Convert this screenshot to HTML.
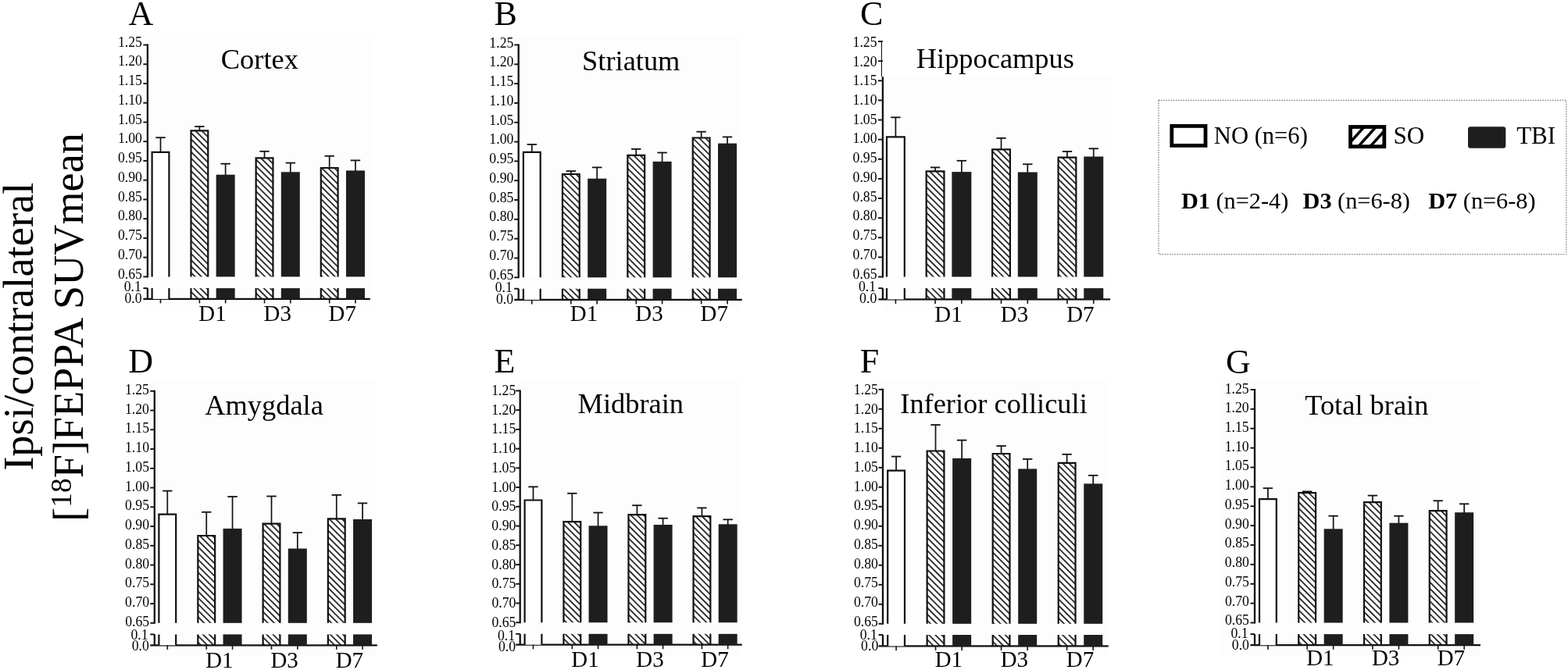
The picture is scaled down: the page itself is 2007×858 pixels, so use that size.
<!DOCTYPE html>
<html><head><meta charset="utf-8"><title>FEPPA SUVmean figure</title>
<style>
html,body{margin:0;padding:0;background:#fff;}
body{width:2007px;height:858px;overflow:hidden;position:relative;}
svg{position:absolute;left:0;top:0;display:block;}
text{font-family:"Liberation Serif", "Times New Roman", serif;fill:#000;}
</style></head>
<body>
<svg width="2007" height="858" viewBox="0 0 2007 858">
<defs>
<pattern id="hatch" patternUnits="userSpaceOnUse" width="5.76" height="5.76" patternTransform="rotate(-45)">
<rect x="0" y="0" width="1.65" height="5.76" fill="#111"/>
</pattern>
<filter id="bl" x="-10%" y="-10%" width="120%" height="120%"><feGaussianBlur stdDeviation="1.0"/></filter>
<clipPath id="soclip"><rect x="1728" y="162" width="44.3" height="26"/></clipPath>
</defs>
<rect width="2007" height="858" fill="#fff"/>
<g transform="translate(42,418.2) rotate(-90)">
<text x="0" y="0" font-size="54.5" text-anchor="middle">Ipsi/contralateral</text>
</g>
<g transform="translate(106,419) rotate(-90)">
<text x="0" y="0" font-size="54.2" text-anchor="middle">[<tspan font-size="37.4" dy="-15.5">18</tspan><tspan dy="15.5">F]FEPPA SUVmean</tspan></text>
</g>
<rect x="183" y="42.7" width="290.4" height="354.3" fill="#fdfdfd"/>
<text x="164.6" y="32" font-size="44">A</text>
<text x="282.81" y="88.1" font-size="36.4">Cortex</text>
<line x1="188.9" y1="56.5" x2="188.9" y2="355.4" stroke="#111" stroke-width="2.3"/>
<line x1="183.4" y1="57.5" x2="188.9" y2="57.5" stroke="#111" stroke-width="1.9"/>
<text transform="translate(181.99 59.7) scale(0.92 1)" font-size="19.3" text-anchor="end">1.25</text>
<line x1="183.4" y1="82.24" x2="188.9" y2="82.24" stroke="#111" stroke-width="1.9"/>
<text transform="translate(181.98 84.44) scale(0.92 1)" font-size="19.3" text-anchor="end">1.20</text>
<line x1="183.4" y1="106.98" x2="188.9" y2="106.98" stroke="#111" stroke-width="1.9"/>
<text transform="translate(181.99 109.18) scale(0.92 1)" font-size="19.3" text-anchor="end">1.15</text>
<line x1="183.4" y1="131.72" x2="188.9" y2="131.72" stroke="#111" stroke-width="1.9"/>
<text transform="translate(181.98 133.93) scale(0.92 1)" font-size="19.3" text-anchor="end">1.10</text>
<line x1="183.4" y1="156.47" x2="188.9" y2="156.47" stroke="#111" stroke-width="1.9"/>
<text transform="translate(181.99 158.67) scale(0.92 1)" font-size="19.3" text-anchor="end">1.05</text>
<line x1="183.4" y1="181.21" x2="188.9" y2="181.21" stroke="#111" stroke-width="1.9"/>
<text transform="translate(181.98 183.41) scale(0.92 1)" font-size="19.3" text-anchor="end">1.00</text>
<line x1="183.4" y1="205.95" x2="188.9" y2="205.95" stroke="#111" stroke-width="1.9"/>
<text transform="translate(181.99 208.15) scale(0.92 1)" font-size="19.3" text-anchor="end">0.95</text>
<line x1="183.4" y1="230.69" x2="188.9" y2="230.69" stroke="#111" stroke-width="1.9"/>
<text transform="translate(181.98 232.89) scale(0.92 1)" font-size="19.3" text-anchor="end">0.90</text>
<line x1="183.4" y1="255.43" x2="188.9" y2="255.43" stroke="#111" stroke-width="1.9"/>
<text transform="translate(181.99 257.63) scale(0.92 1)" font-size="19.3" text-anchor="end">0.85</text>
<line x1="183.4" y1="280.17" x2="188.9" y2="280.17" stroke="#111" stroke-width="1.9"/>
<text transform="translate(181.98 282.38) scale(0.92 1)" font-size="19.3" text-anchor="end">0.80</text>
<line x1="183.4" y1="304.92" x2="188.9" y2="304.92" stroke="#111" stroke-width="1.9"/>
<text transform="translate(181.99 307.12) scale(0.92 1)" font-size="19.3" text-anchor="end">0.75</text>
<line x1="183.4" y1="329.66" x2="188.9" y2="329.66" stroke="#111" stroke-width="1.9"/>
<text transform="translate(181.98 331.86) scale(0.92 1)" font-size="19.3" text-anchor="end">0.70</text>
<line x1="183.4" y1="354.4" x2="188.9" y2="354.4" stroke="#111" stroke-width="1.9"/>
<text transform="translate(181.99 356.6) scale(0.92 1)" font-size="19.3" text-anchor="end">0.65</text>
<line x1="188.9" y1="369.1" x2="188.9" y2="382.9" stroke="#111" stroke-width="2.3"/>
<line x1="183.4" y1="369.1" x2="188.9" y2="369.1" stroke="#111" stroke-width="1.9"/>
<line x1="183.4" y1="382.9" x2="473.8" y2="382.9" stroke="#111" stroke-width="2.2"/>
<text transform="translate(180.87 373.4) scale(0.92 1)" font-size="19.3" text-anchor="end">0.1</text>
<text transform="translate(181.68 388.2) scale(0.92 1)" font-size="19.3" text-anchor="end">0.0</text>
<line x1="205.5" y1="194.7" x2="205.5" y2="175.9" stroke="#111" stroke-width="1.7"/>
<line x1="199.3" y1="176.2" x2="211.7" y2="176.2" stroke="#111" stroke-width="1.8"/>
<rect x="194.6" y="194.8" width="21.8" height="159.6" fill="#fff"/>
<path d="M194.6 354.4V194.8H216.4V354.4" fill="none" stroke="#111" stroke-width="2.2"/>
<rect x="194.6" y="369.1" width="21.8" height="13.8" fill="#fff"/>
<path d="M194.6 369.1V382.9M216.4 369.1V382.9" fill="none" stroke="#111" stroke-width="2.2"/>
<line x1="205.5" y1="382.9" x2="205.5" y2="388.4" stroke="#111" stroke-width="1.6"/>
<line x1="255.39" y1="167.3" x2="255.39" y2="161.7" stroke="#111" stroke-width="1.7"/>
<line x1="249.19" y1="162" x2="261.59" y2="162" stroke="#111" stroke-width="1.8"/>
<rect x="244.49" y="167.4" width="21.8" height="187" fill="url(#hatch)"/>
<path d="M244.49 354.4V167.4H266.29V354.4" fill="none" stroke="#111" stroke-width="2.2"/>
<rect x="244.49" y="369.1" width="21.8" height="13.8" fill="url(#hatch)"/>
<path d="M244.49 369.1V382.9M266.29 369.1V382.9" fill="none" stroke="#111" stroke-width="2.2"/>
<line x1="255.39" y1="382.9" x2="255.39" y2="388.4" stroke="#111" stroke-width="1.6"/>
<line x1="288.65" y1="224.7" x2="288.65" y2="209.4" stroke="#111" stroke-width="1.7"/>
<line x1="282.45" y1="209.7" x2="294.85" y2="209.7" stroke="#111" stroke-width="1.8"/>
<rect x="276.65" y="223.7" width="24" height="130.7" fill="#1e1e1e"/>
<rect x="276.65" y="369.1" width="24" height="13.8" fill="#1e1e1e"/>
<line x1="288.65" y1="382.9" x2="288.65" y2="388.4" stroke="#111" stroke-width="1.6"/>
<line x1="338.54" y1="202.3" x2="338.54" y2="193.5" stroke="#111" stroke-width="1.7"/>
<line x1="332.34" y1="193.8" x2="344.74" y2="193.8" stroke="#111" stroke-width="1.8"/>
<rect x="327.64" y="202.4" width="21.8" height="152" fill="url(#hatch)"/>
<path d="M327.64 354.4V202.4H349.44V354.4" fill="none" stroke="#111" stroke-width="2.2"/>
<rect x="327.64" y="369.1" width="21.8" height="13.8" fill="url(#hatch)"/>
<path d="M327.64 369.1V382.9M349.44 369.1V382.9" fill="none" stroke="#111" stroke-width="2.2"/>
<line x1="338.54" y1="382.9" x2="338.54" y2="388.4" stroke="#111" stroke-width="1.6"/>
<line x1="371.8" y1="221.3" x2="371.8" y2="208.3" stroke="#111" stroke-width="1.7"/>
<line x1="365.6" y1="208.6" x2="378" y2="208.6" stroke="#111" stroke-width="1.8"/>
<rect x="359.8" y="220.3" width="24" height="134.1" fill="#1e1e1e"/>
<rect x="359.8" y="369.1" width="24" height="13.8" fill="#1e1e1e"/>
<line x1="371.8" y1="382.9" x2="371.8" y2="388.4" stroke="#111" stroke-width="1.6"/>
<line x1="421.69" y1="214.9" x2="421.69" y2="199.5" stroke="#111" stroke-width="1.7"/>
<line x1="415.49" y1="199.8" x2="427.89" y2="199.8" stroke="#111" stroke-width="1.8"/>
<rect x="410.79" y="215" width="21.8" height="139.4" fill="url(#hatch)"/>
<path d="M410.79 354.4V215H432.59V354.4" fill="none" stroke="#111" stroke-width="2.2"/>
<rect x="410.79" y="369.1" width="21.8" height="13.8" fill="url(#hatch)"/>
<path d="M410.79 369.1V382.9M432.59 369.1V382.9" fill="none" stroke="#111" stroke-width="2.2"/>
<line x1="421.69" y1="382.9" x2="421.69" y2="388.4" stroke="#111" stroke-width="1.6"/>
<line x1="454.95" y1="219.4" x2="454.95" y2="205.1" stroke="#111" stroke-width="1.7"/>
<line x1="448.75" y1="205.4" x2="461.15" y2="205.4" stroke="#111" stroke-width="1.8"/>
<rect x="442.95" y="218.4" width="24" height="136" fill="#1e1e1e"/>
<rect x="442.95" y="369.1" width="24" height="13.8" fill="#1e1e1e"/>
<line x1="454.95" y1="382.9" x2="454.95" y2="388.4" stroke="#111" stroke-width="1.6"/>
<text transform="translate(272.02 410.6) scale(0.95 1)" font-size="30.5" text-anchor="middle">D1</text>
<text transform="translate(355.17 410.6) scale(0.95 1)" font-size="30.5" text-anchor="middle">D3</text>
<text transform="translate(438.32 410.6) scale(0.95 1)" font-size="30.5" text-anchor="middle">D7</text>
<rect x="657" y="44.3" width="291.5" height="352.7" fill="#fdfdfd"/>
<text x="632.6" y="31.5" font-size="44">B</text>
<text x="745.07" y="90.3" font-size="36.4">Striatum</text>
<line x1="663.7" y1="56.5" x2="663.7" y2="356.3" stroke="#111" stroke-width="2.3"/>
<line x1="658.2" y1="57.5" x2="663.7" y2="57.5" stroke="#111" stroke-width="1.9"/>
<text transform="translate(657.39 60.6) scale(0.92 1)" font-size="19.3" text-anchor="end">1.25</text>
<line x1="658.2" y1="82.32" x2="663.7" y2="82.32" stroke="#111" stroke-width="1.9"/>
<text transform="translate(657.38 85.36) scale(0.92 1)" font-size="19.3" text-anchor="end">1.20</text>
<line x1="658.2" y1="107.13" x2="663.7" y2="107.13" stroke="#111" stroke-width="1.9"/>
<text transform="translate(657.39 110.12) scale(0.92 1)" font-size="19.3" text-anchor="end">1.15</text>
<line x1="658.2" y1="131.95" x2="663.7" y2="131.95" stroke="#111" stroke-width="1.9"/>
<text transform="translate(657.38 134.88) scale(0.92 1)" font-size="19.3" text-anchor="end">1.10</text>
<line x1="658.2" y1="156.77" x2="663.7" y2="156.77" stroke="#111" stroke-width="1.9"/>
<text transform="translate(657.39 159.63) scale(0.92 1)" font-size="19.3" text-anchor="end">1.05</text>
<line x1="658.2" y1="181.58" x2="663.7" y2="181.58" stroke="#111" stroke-width="1.9"/>
<text transform="translate(657.38 184.39) scale(0.92 1)" font-size="19.3" text-anchor="end">1.00</text>
<line x1="658.2" y1="206.4" x2="663.7" y2="206.4" stroke="#111" stroke-width="1.9"/>
<text transform="translate(657.39 209.15) scale(0.92 1)" font-size="19.3" text-anchor="end">0.95</text>
<line x1="658.2" y1="231.22" x2="663.7" y2="231.22" stroke="#111" stroke-width="1.9"/>
<text transform="translate(657.38 233.91) scale(0.92 1)" font-size="19.3" text-anchor="end">0.90</text>
<line x1="658.2" y1="256.03" x2="663.7" y2="256.03" stroke="#111" stroke-width="1.9"/>
<text transform="translate(657.39 258.67) scale(0.92 1)" font-size="19.3" text-anchor="end">0.85</text>
<line x1="658.2" y1="280.85" x2="663.7" y2="280.85" stroke="#111" stroke-width="1.9"/>
<text transform="translate(657.38 283.42) scale(0.92 1)" font-size="19.3" text-anchor="end">0.80</text>
<line x1="658.2" y1="305.67" x2="663.7" y2="305.67" stroke="#111" stroke-width="1.9"/>
<text transform="translate(657.39 308.18) scale(0.92 1)" font-size="19.3" text-anchor="end">0.75</text>
<line x1="658.2" y1="330.48" x2="663.7" y2="330.48" stroke="#111" stroke-width="1.9"/>
<text transform="translate(657.38 332.94) scale(0.92 1)" font-size="19.3" text-anchor="end">0.70</text>
<line x1="658.2" y1="355.3" x2="663.7" y2="355.3" stroke="#111" stroke-width="1.9"/>
<text transform="translate(657.39 357.7) scale(0.92 1)" font-size="19.3" text-anchor="end">0.65</text>
<line x1="663.7" y1="369.7" x2="663.7" y2="383.9" stroke="#111" stroke-width="2.3"/>
<line x1="658.2" y1="369.7" x2="663.7" y2="369.7" stroke="#111" stroke-width="1.9"/>
<line x1="658.2" y1="383.9" x2="949.8" y2="383.9" stroke="#111" stroke-width="2.2"/>
<text transform="translate(655.87 374.3) scale(0.92 1)" font-size="19.3" text-anchor="end">0.1</text>
<text transform="translate(657.08 388.6) scale(0.92 1)" font-size="19.3" text-anchor="end">0.0</text>
<line x1="680.8" y1="194.7" x2="680.8" y2="184.7" stroke="#111" stroke-width="1.7"/>
<line x1="674.6" y1="185" x2="687" y2="185" stroke="#111" stroke-width="1.8"/>
<rect x="669.9" y="194.8" width="21.8" height="160.5" fill="#fff"/>
<path d="M669.9 355.3V194.8H691.7V355.3" fill="none" stroke="#111" stroke-width="2.2"/>
<rect x="669.9" y="369.7" width="21.8" height="14.2" fill="#fff"/>
<path d="M669.9 369.7V383.9M691.7 369.7V383.9" fill="none" stroke="#111" stroke-width="2.2"/>
<line x1="680.8" y1="383.9" x2="680.8" y2="389.4" stroke="#111" stroke-width="1.6"/>
<line x1="730.84" y1="222.9" x2="730.84" y2="218.8" stroke="#111" stroke-width="1.7"/>
<line x1="724.64" y1="219.1" x2="737.04" y2="219.1" stroke="#111" stroke-width="1.8"/>
<rect x="719.94" y="223" width="21.8" height="132.3" fill="url(#hatch)"/>
<path d="M719.94 355.3V223H741.74V355.3" fill="none" stroke="#111" stroke-width="2.2"/>
<rect x="719.94" y="369.7" width="21.8" height="14.2" fill="url(#hatch)"/>
<path d="M719.94 369.7V383.9M741.74 369.7V383.9" fill="none" stroke="#111" stroke-width="2.2"/>
<line x1="730.84" y1="383.9" x2="730.84" y2="389.4" stroke="#111" stroke-width="1.6"/>
<line x1="764.2" y1="229.7" x2="764.2" y2="214.1" stroke="#111" stroke-width="1.7"/>
<line x1="758" y1="214.4" x2="770.4" y2="214.4" stroke="#111" stroke-width="1.8"/>
<rect x="752.2" y="228.7" width="24" height="126.6" fill="#1e1e1e"/>
<rect x="752.2" y="369.7" width="24" height="14.2" fill="#1e1e1e"/>
<line x1="764.2" y1="383.9" x2="764.2" y2="389.4" stroke="#111" stroke-width="1.6"/>
<line x1="814.24" y1="198.8" x2="814.24" y2="190.6" stroke="#111" stroke-width="1.7"/>
<line x1="808.04" y1="190.9" x2="820.44" y2="190.9" stroke="#111" stroke-width="1.8"/>
<rect x="803.34" y="198.9" width="21.8" height="156.4" fill="url(#hatch)"/>
<path d="M803.34 355.3V198.9H825.14V355.3" fill="none" stroke="#111" stroke-width="2.2"/>
<rect x="803.34" y="369.7" width="21.8" height="14.2" fill="url(#hatch)"/>
<path d="M803.34 369.7V383.9M825.14 369.7V383.9" fill="none" stroke="#111" stroke-width="2.2"/>
<line x1="814.24" y1="383.9" x2="814.24" y2="389.4" stroke="#111" stroke-width="1.6"/>
<line x1="847.6" y1="207.9" x2="847.6" y2="195.2" stroke="#111" stroke-width="1.7"/>
<line x1="841.4" y1="195.5" x2="853.8" y2="195.5" stroke="#111" stroke-width="1.8"/>
<rect x="835.6" y="206.9" width="24" height="148.4" fill="#1e1e1e"/>
<rect x="835.6" y="369.7" width="24" height="14.2" fill="#1e1e1e"/>
<line x1="847.6" y1="383.9" x2="847.6" y2="389.4" stroke="#111" stroke-width="1.6"/>
<line x1="897.64" y1="176.4" x2="897.64" y2="168.4" stroke="#111" stroke-width="1.7"/>
<line x1="891.44" y1="168.7" x2="903.84" y2="168.7" stroke="#111" stroke-width="1.8"/>
<rect x="886.74" y="176.5" width="21.8" height="178.8" fill="url(#hatch)"/>
<path d="M886.74 355.3V176.5H908.54V355.3" fill="none" stroke="#111" stroke-width="2.2"/>
<rect x="886.74" y="369.7" width="21.8" height="14.2" fill="url(#hatch)"/>
<path d="M886.74 369.7V383.9M908.54 369.7V383.9" fill="none" stroke="#111" stroke-width="2.2"/>
<line x1="897.64" y1="383.9" x2="897.64" y2="389.4" stroke="#111" stroke-width="1.6"/>
<line x1="931" y1="184.6" x2="931" y2="175.1" stroke="#111" stroke-width="1.7"/>
<line x1="924.8" y1="175.4" x2="937.2" y2="175.4" stroke="#111" stroke-width="1.8"/>
<rect x="919" y="183.6" width="24" height="171.7" fill="#1e1e1e"/>
<rect x="919" y="369.7" width="24" height="14.2" fill="#1e1e1e"/>
<line x1="931" y1="383.9" x2="931" y2="389.4" stroke="#111" stroke-width="1.6"/>
<text transform="translate(747.52 410.8) scale(0.95 1)" font-size="30.5" text-anchor="middle">D1</text>
<text transform="translate(830.92 410.8) scale(0.95 1)" font-size="30.5" text-anchor="middle">D3</text>
<text transform="translate(914.32 410.8) scale(0.95 1)" font-size="30.5" text-anchor="middle">D7</text>
<rect x="1130" y="97" width="292" height="300" fill="#fdfdfd"/>
<text x="1100.9" y="31.6" font-size="44">C</text>
<text x="1172.75" y="87.1" font-size="36.4">Hippocampus</text>
<line x1="1128.4" y1="52.1" x2="1128.4" y2="98.3" stroke="#111" stroke-width="1.1"/>
<line x1="1129.9" y1="98.3" x2="1129.9" y2="355.5" stroke="#111" stroke-width="2.3"/>
<line x1="1123.9" y1="53.1" x2="1129.9" y2="53.1" stroke="#111" stroke-width="1.9"/>
<text transform="translate(1122.59 59.8) scale(0.92 1)" font-size="19.3" text-anchor="end">1.25</text>
<line x1="1123.9" y1="78.22" x2="1129.9" y2="78.22" stroke="#111" stroke-width="1.9"/>
<text transform="translate(1122.58 84.53) scale(0.92 1)" font-size="19.3" text-anchor="end">1.20</text>
<line x1="1123.9" y1="103.33" x2="1129.9" y2="103.33" stroke="#111" stroke-width="1.9"/>
<text transform="translate(1122.59 109.27) scale(0.92 1)" font-size="19.3" text-anchor="end">1.15</text>
<line x1="1123.9" y1="128.45" x2="1129.9" y2="128.45" stroke="#111" stroke-width="1.9"/>
<text transform="translate(1122.58 134) scale(0.92 1)" font-size="19.3" text-anchor="end">1.10</text>
<line x1="1123.9" y1="153.57" x2="1129.9" y2="153.57" stroke="#111" stroke-width="1.9"/>
<text transform="translate(1122.59 158.73) scale(0.92 1)" font-size="19.3" text-anchor="end">1.05</text>
<line x1="1123.9" y1="178.68" x2="1129.9" y2="178.68" stroke="#111" stroke-width="1.9"/>
<text transform="translate(1122.58 183.47) scale(0.92 1)" font-size="19.3" text-anchor="end">1.00</text>
<line x1="1123.9" y1="203.8" x2="1129.9" y2="203.8" stroke="#111" stroke-width="1.9"/>
<text transform="translate(1122.59 208.2) scale(0.92 1)" font-size="19.3" text-anchor="end">0.95</text>
<line x1="1123.9" y1="228.92" x2="1129.9" y2="228.92" stroke="#111" stroke-width="1.9"/>
<text transform="translate(1122.58 232.93) scale(0.92 1)" font-size="19.3" text-anchor="end">0.90</text>
<line x1="1123.9" y1="254.03" x2="1129.9" y2="254.03" stroke="#111" stroke-width="1.9"/>
<text transform="translate(1122.59 257.67) scale(0.92 1)" font-size="19.3" text-anchor="end">0.85</text>
<line x1="1123.9" y1="279.15" x2="1129.9" y2="279.15" stroke="#111" stroke-width="1.9"/>
<text transform="translate(1122.58 282.4) scale(0.92 1)" font-size="19.3" text-anchor="end">0.80</text>
<line x1="1123.9" y1="304.27" x2="1129.9" y2="304.27" stroke="#111" stroke-width="1.9"/>
<text transform="translate(1122.59 307.13) scale(0.92 1)" font-size="19.3" text-anchor="end">0.75</text>
<line x1="1123.9" y1="329.38" x2="1129.9" y2="329.38" stroke="#111" stroke-width="1.9"/>
<text transform="translate(1122.58 331.87) scale(0.92 1)" font-size="19.3" text-anchor="end">0.70</text>
<line x1="1123.9" y1="354.5" x2="1129.9" y2="354.5" stroke="#111" stroke-width="1.9"/>
<text transform="translate(1122.59 356.6) scale(0.92 1)" font-size="19.3" text-anchor="end">0.65</text>
<line x1="1129.9" y1="369.1" x2="1129.9" y2="383.4" stroke="#111" stroke-width="2.3"/>
<line x1="1124.4" y1="369.1" x2="1129.9" y2="369.1" stroke="#111" stroke-width="1.9"/>
<line x1="1124.4" y1="383.4" x2="1421.1" y2="383.4" stroke="#111" stroke-width="2.2"/>
<text transform="translate(1121.17 373.4) scale(0.92 1)" font-size="19.3" text-anchor="end">0.1</text>
<text transform="translate(1122.28 388.3) scale(0.92 1)" font-size="19.3" text-anchor="end">0.0</text>
<line x1="1146.4" y1="175.3" x2="1146.4" y2="150" stroke="#111" stroke-width="1.7"/>
<line x1="1140.2" y1="150.3" x2="1152.6" y2="150.3" stroke="#111" stroke-width="1.8"/>
<rect x="1135" y="175.4" width="22.8" height="179.1" fill="#fff"/>
<path d="M1135 354.5V175.4H1157.8V354.5" fill="none" stroke="#111" stroke-width="2.2"/>
<rect x="1135" y="369.1" width="22.8" height="14.3" fill="#fff"/>
<path d="M1135 369.1V383.4M1157.8 369.1V383.4" fill="none" stroke="#111" stroke-width="2.2"/>
<line x1="1146.4" y1="383.4" x2="1146.4" y2="388.9" stroke="#111" stroke-width="1.6"/>
<line x1="1197.07" y1="219.2" x2="1197.07" y2="214.1" stroke="#111" stroke-width="1.7"/>
<line x1="1190.87" y1="214.4" x2="1203.27" y2="214.4" stroke="#111" stroke-width="1.8"/>
<rect x="1185.67" y="219.3" width="22.8" height="135.2" fill="url(#hatch)"/>
<path d="M1185.67 354.5V219.3H1208.47V354.5" fill="none" stroke="#111" stroke-width="2.2"/>
<rect x="1185.67" y="369.1" width="22.8" height="14.3" fill="url(#hatch)"/>
<path d="M1185.67 369.1V383.4M1208.47 369.1V383.4" fill="none" stroke="#111" stroke-width="2.2"/>
<line x1="1197.07" y1="383.4" x2="1197.07" y2="388.9" stroke="#111" stroke-width="1.6"/>
<line x1="1230.85" y1="221.1" x2="1230.85" y2="205.5" stroke="#111" stroke-width="1.7"/>
<line x1="1224.65" y1="205.8" x2="1237.05" y2="205.8" stroke="#111" stroke-width="1.8"/>
<rect x="1218.35" y="220.1" width="25" height="134.4" fill="#1e1e1e"/>
<rect x="1218.35" y="369.1" width="25" height="14.3" fill="#1e1e1e"/>
<line x1="1230.85" y1="383.4" x2="1230.85" y2="388.9" stroke="#111" stroke-width="1.6"/>
<line x1="1281.52" y1="191.2" x2="1281.52" y2="176.6" stroke="#111" stroke-width="1.7"/>
<line x1="1275.32" y1="176.9" x2="1287.72" y2="176.9" stroke="#111" stroke-width="1.8"/>
<rect x="1270.12" y="191.3" width="22.8" height="163.2" fill="url(#hatch)"/>
<path d="M1270.12 354.5V191.3H1292.92V354.5" fill="none" stroke="#111" stroke-width="2.2"/>
<rect x="1270.12" y="369.1" width="22.8" height="14.3" fill="url(#hatch)"/>
<path d="M1270.12 369.1V383.4M1292.92 369.1V383.4" fill="none" stroke="#111" stroke-width="2.2"/>
<line x1="1281.52" y1="383.4" x2="1281.52" y2="388.9" stroke="#111" stroke-width="1.6"/>
<line x1="1315.3" y1="221.5" x2="1315.3" y2="210" stroke="#111" stroke-width="1.7"/>
<line x1="1309.1" y1="210.3" x2="1321.5" y2="210.3" stroke="#111" stroke-width="1.8"/>
<rect x="1302.8" y="220.5" width="25" height="134" fill="#1e1e1e"/>
<rect x="1302.8" y="369.1" width="25" height="14.3" fill="#1e1e1e"/>
<line x1="1315.3" y1="383.4" x2="1315.3" y2="388.9" stroke="#111" stroke-width="1.6"/>
<line x1="1365.97" y1="201.5" x2="1365.97" y2="193.7" stroke="#111" stroke-width="1.7"/>
<line x1="1359.77" y1="194" x2="1372.17" y2="194" stroke="#111" stroke-width="1.8"/>
<rect x="1354.57" y="201.6" width="22.8" height="152.9" fill="url(#hatch)"/>
<path d="M1354.57 354.5V201.6H1377.37V354.5" fill="none" stroke="#111" stroke-width="2.2"/>
<rect x="1354.57" y="369.1" width="22.8" height="14.3" fill="url(#hatch)"/>
<path d="M1354.57 369.1V383.4M1377.37 369.1V383.4" fill="none" stroke="#111" stroke-width="2.2"/>
<line x1="1365.97" y1="383.4" x2="1365.97" y2="388.9" stroke="#111" stroke-width="1.6"/>
<line x1="1399.75" y1="201.5" x2="1399.75" y2="190" stroke="#111" stroke-width="1.7"/>
<line x1="1393.55" y1="190.3" x2="1405.95" y2="190.3" stroke="#111" stroke-width="1.8"/>
<rect x="1387.25" y="200.5" width="25" height="154" fill="#1e1e1e"/>
<rect x="1387.25" y="369.1" width="25" height="14.3" fill="#1e1e1e"/>
<line x1="1399.75" y1="383.4" x2="1399.75" y2="388.9" stroke="#111" stroke-width="1.6"/>
<text transform="translate(1213.96 411.5) scale(0.95 1)" font-size="30.5" text-anchor="middle">D1</text>
<text transform="translate(1298.41 411.5) scale(0.95 1)" font-size="30.5" text-anchor="middle">D3</text>
<text transform="translate(1382.86 411.5) scale(0.95 1)" font-size="30.5" text-anchor="middle">D7</text>
<rect x="191" y="487.8" width="291" height="352.2" fill="#fdfdfd"/>
<text x="164.3" y="477.1" font-size="44">D</text>
<text x="262.24" y="531.3" font-size="36.4">Amygdala</text>
<line x1="197.8" y1="499.8" x2="197.8" y2="798.8" stroke="#111" stroke-width="2.3"/>
<line x1="192.3" y1="500.8" x2="197.8" y2="500.8" stroke="#111" stroke-width="1.9"/>
<text transform="translate(190.99 504.9) scale(0.92 1)" font-size="19.3" text-anchor="end">1.25</text>
<line x1="192.3" y1="525.55" x2="197.8" y2="525.55" stroke="#111" stroke-width="1.9"/>
<text transform="translate(190.99 529.65) scale(0.92 1)" font-size="19.3" text-anchor="end">1.20</text>
<line x1="192.3" y1="550.3" x2="197.8" y2="550.3" stroke="#111" stroke-width="1.9"/>
<text transform="translate(191.03 554.4) scale(0.92 1)" font-size="19.3" text-anchor="end">1.15</text>
<line x1="192.3" y1="575.05" x2="197.8" y2="575.05" stroke="#111" stroke-width="1.9"/>
<text transform="translate(191.03 579.15) scale(0.92 1)" font-size="19.3" text-anchor="end">1.10</text>
<line x1="192.3" y1="599.8" x2="197.8" y2="599.8" stroke="#111" stroke-width="1.9"/>
<text transform="translate(191.06 603.9) scale(0.92 1)" font-size="19.3" text-anchor="end">1.05</text>
<line x1="192.3" y1="624.55" x2="197.8" y2="624.55" stroke="#111" stroke-width="1.9"/>
<text transform="translate(191.06 628.65) scale(0.92 1)" font-size="19.3" text-anchor="end">1.00</text>
<line x1="192.3" y1="649.3" x2="197.8" y2="649.3" stroke="#111" stroke-width="1.9"/>
<text transform="translate(191.09 653.4) scale(0.92 1)" font-size="19.3" text-anchor="end">0.95</text>
<line x1="192.3" y1="674.05" x2="197.8" y2="674.05" stroke="#111" stroke-width="1.9"/>
<text transform="translate(191.09 678.15) scale(0.92 1)" font-size="19.3" text-anchor="end">0.90</text>
<line x1="192.3" y1="698.8" x2="197.8" y2="698.8" stroke="#111" stroke-width="1.9"/>
<text transform="translate(191.13 702.9) scale(0.92 1)" font-size="19.3" text-anchor="end">0.85</text>
<line x1="192.3" y1="723.55" x2="197.8" y2="723.55" stroke="#111" stroke-width="1.9"/>
<text transform="translate(191.13 727.65) scale(0.92 1)" font-size="19.3" text-anchor="end">0.80</text>
<line x1="192.3" y1="748.3" x2="197.8" y2="748.3" stroke="#111" stroke-width="1.9"/>
<text transform="translate(191.16 752.4) scale(0.92 1)" font-size="19.3" text-anchor="end">0.75</text>
<line x1="192.3" y1="773.05" x2="197.8" y2="773.05" stroke="#111" stroke-width="1.9"/>
<text transform="translate(191.16 777.15) scale(0.92 1)" font-size="19.3" text-anchor="end">0.70</text>
<line x1="192.3" y1="797.8" x2="197.8" y2="797.8" stroke="#111" stroke-width="1.9"/>
<text transform="translate(191.19 801.9) scale(0.92 1)" font-size="19.3" text-anchor="end">0.65</text>
<line x1="197.8" y1="812.4" x2="197.8" y2="826.3" stroke="#111" stroke-width="2.3"/>
<line x1="192.3" y1="812.4" x2="197.8" y2="812.4" stroke="#111" stroke-width="1.9"/>
<line x1="192.3" y1="826.3" x2="482.8" y2="826.3" stroke="#111" stroke-width="2.2"/>
<text transform="translate(189.67 818.6) scale(0.92 1)" font-size="19.3" text-anchor="end">0.1</text>
<text transform="translate(190.88 833.4) scale(0.92 1)" font-size="19.3" text-anchor="end">0.0</text>
<line x1="214.3" y1="658.6" x2="214.3" y2="628.3" stroke="#111" stroke-width="1.7"/>
<line x1="208.1" y1="628.6" x2="220.5" y2="628.6" stroke="#111" stroke-width="1.8"/>
<rect x="203.4" y="658.7" width="21.8" height="139.1" fill="#fff"/>
<path d="M203.4 797.8V658.7H225.2V797.8" fill="none" stroke="#111" stroke-width="2.2"/>
<rect x="203.4" y="812.4" width="21.8" height="13.9" fill="#fff"/>
<path d="M203.4 812.4V826.3M225.2 812.4V826.3" fill="none" stroke="#111" stroke-width="2.2"/>
<line x1="214.3" y1="826.3" x2="214.3" y2="831.8" stroke="#111" stroke-width="1.6"/>
<line x1="264.25" y1="685.9" x2="264.25" y2="655.5" stroke="#111" stroke-width="1.7"/>
<line x1="258.05" y1="655.8" x2="270.45" y2="655.8" stroke="#111" stroke-width="1.8"/>
<rect x="253.35" y="686" width="21.8" height="111.8" fill="url(#hatch)"/>
<path d="M253.35 797.8V686H275.15V797.8" fill="none" stroke="#111" stroke-width="2.2"/>
<rect x="253.35" y="812.4" width="21.8" height="13.9" fill="url(#hatch)"/>
<path d="M253.35 812.4V826.3M275.15 812.4V826.3" fill="none" stroke="#111" stroke-width="2.2"/>
<line x1="264.25" y1="826.3" x2="264.25" y2="831.8" stroke="#111" stroke-width="1.6"/>
<line x1="297.55" y1="677.9" x2="297.55" y2="635.7" stroke="#111" stroke-width="1.7"/>
<line x1="291.35" y1="636" x2="303.75" y2="636" stroke="#111" stroke-width="1.8"/>
<rect x="285.55" y="676.9" width="24" height="120.9" fill="#1e1e1e"/>
<rect x="285.55" y="812.4" width="24" height="13.9" fill="#1e1e1e"/>
<line x1="297.55" y1="826.3" x2="297.55" y2="831.8" stroke="#111" stroke-width="1.6"/>
<line x1="347.5" y1="670.5" x2="347.5" y2="635.2" stroke="#111" stroke-width="1.7"/>
<line x1="341.3" y1="635.5" x2="353.7" y2="635.5" stroke="#111" stroke-width="1.8"/>
<rect x="336.6" y="670.6" width="21.8" height="127.2" fill="url(#hatch)"/>
<path d="M336.6 797.8V670.6H358.4V797.8" fill="none" stroke="#111" stroke-width="2.2"/>
<rect x="336.6" y="812.4" width="21.8" height="13.9" fill="url(#hatch)"/>
<path d="M336.6 812.4V826.3M358.4 812.4V826.3" fill="none" stroke="#111" stroke-width="2.2"/>
<line x1="347.5" y1="826.3" x2="347.5" y2="831.8" stroke="#111" stroke-width="1.6"/>
<line x1="380.8" y1="703.5" x2="380.8" y2="681.8" stroke="#111" stroke-width="1.7"/>
<line x1="374.6" y1="682.1" x2="387" y2="682.1" stroke="#111" stroke-width="1.8"/>
<rect x="368.8" y="702.5" width="24" height="95.3" fill="#1e1e1e"/>
<rect x="368.8" y="812.4" width="24" height="13.9" fill="#1e1e1e"/>
<line x1="380.8" y1="826.3" x2="380.8" y2="831.8" stroke="#111" stroke-width="1.6"/>
<line x1="430.75" y1="664.2" x2="430.75" y2="633.6" stroke="#111" stroke-width="1.7"/>
<line x1="424.55" y1="633.9" x2="436.95" y2="633.9" stroke="#111" stroke-width="1.8"/>
<rect x="419.85" y="664.3" width="21.8" height="133.5" fill="url(#hatch)"/>
<path d="M419.85 797.8V664.3H441.65V797.8" fill="none" stroke="#111" stroke-width="2.2"/>
<rect x="419.85" y="812.4" width="21.8" height="13.9" fill="url(#hatch)"/>
<path d="M419.85 812.4V826.3M441.65 812.4V826.3" fill="none" stroke="#111" stroke-width="2.2"/>
<line x1="430.75" y1="826.3" x2="430.75" y2="831.8" stroke="#111" stroke-width="1.6"/>
<line x1="464.05" y1="666" x2="464.05" y2="644.1" stroke="#111" stroke-width="1.7"/>
<line x1="457.85" y1="644.4" x2="470.25" y2="644.4" stroke="#111" stroke-width="1.8"/>
<rect x="452.05" y="665" width="24" height="132.8" fill="#1e1e1e"/>
<rect x="452.05" y="812.4" width="24" height="13.9" fill="#1e1e1e"/>
<line x1="464.05" y1="826.3" x2="464.05" y2="831.8" stroke="#111" stroke-width="1.6"/>
<text transform="translate(280.9 854.5) scale(0.95 1)" font-size="30.5" text-anchor="middle">D1</text>
<text transform="translate(364.15 854.5) scale(0.95 1)" font-size="30.5" text-anchor="middle">D3</text>
<text transform="translate(447.4 854.5) scale(0.95 1)" font-size="30.5" text-anchor="middle">D7</text>
<rect x="659" y="487.8" width="291" height="352.2" fill="#fdfdfd"/>
<text x="632.6" y="477.3" font-size="44">E</text>
<text x="739.55" y="528.6" font-size="36.4">Midbrain</text>
<line x1="665.7" y1="499.4" x2="665.7" y2="798.2" stroke="#111" stroke-width="2.3"/>
<line x1="660.2" y1="500.4" x2="665.7" y2="500.4" stroke="#111" stroke-width="1.9"/>
<text transform="translate(660.29 505.8) scale(0.92 1)" font-size="19.3" text-anchor="end">1.25</text>
<line x1="660.2" y1="525.13" x2="665.7" y2="525.13" stroke="#111" stroke-width="1.9"/>
<text transform="translate(660.29 530.55) scale(0.92 1)" font-size="19.3" text-anchor="end">1.20</text>
<line x1="660.2" y1="549.87" x2="665.7" y2="549.87" stroke="#111" stroke-width="1.9"/>
<text transform="translate(660.33 555.3) scale(0.92 1)" font-size="19.3" text-anchor="end">1.15</text>
<line x1="660.2" y1="574.6" x2="665.7" y2="574.6" stroke="#111" stroke-width="1.9"/>
<text transform="translate(660.33 580.05) scale(0.92 1)" font-size="19.3" text-anchor="end">1.10</text>
<line x1="660.2" y1="599.33" x2="665.7" y2="599.33" stroke="#111" stroke-width="1.9"/>
<text transform="translate(660.36 604.8) scale(0.92 1)" font-size="19.3" text-anchor="end">1.05</text>
<line x1="660.2" y1="624.07" x2="665.7" y2="624.07" stroke="#111" stroke-width="1.9"/>
<text transform="translate(660.36 629.55) scale(0.92 1)" font-size="19.3" text-anchor="end">1.00</text>
<line x1="660.2" y1="648.8" x2="665.7" y2="648.8" stroke="#111" stroke-width="1.9"/>
<text transform="translate(660.39 654.3) scale(0.92 1)" font-size="19.3" text-anchor="end">0.95</text>
<line x1="660.2" y1="673.53" x2="665.7" y2="673.53" stroke="#111" stroke-width="1.9"/>
<text transform="translate(660.39 679.05) scale(0.92 1)" font-size="19.3" text-anchor="end">0.90</text>
<line x1="660.2" y1="698.27" x2="665.7" y2="698.27" stroke="#111" stroke-width="1.9"/>
<text transform="translate(660.43 703.8) scale(0.92 1)" font-size="19.3" text-anchor="end">0.85</text>
<line x1="660.2" y1="723" x2="665.7" y2="723" stroke="#111" stroke-width="1.9"/>
<text transform="translate(660.43 728.55) scale(0.92 1)" font-size="19.3" text-anchor="end">0.80</text>
<line x1="660.2" y1="747.73" x2="665.7" y2="747.73" stroke="#111" stroke-width="1.9"/>
<text transform="translate(660.46 753.3) scale(0.92 1)" font-size="19.3" text-anchor="end">0.75</text>
<line x1="660.2" y1="772.47" x2="665.7" y2="772.47" stroke="#111" stroke-width="1.9"/>
<text transform="translate(660.46 778.05) scale(0.92 1)" font-size="19.3" text-anchor="end">0.70</text>
<line x1="660.2" y1="797.2" x2="665.7" y2="797.2" stroke="#111" stroke-width="1.9"/>
<text transform="translate(660.49 802.8) scale(0.92 1)" font-size="19.3" text-anchor="end">0.65</text>
<line x1="665.7" y1="811.8" x2="665.7" y2="825.7" stroke="#111" stroke-width="2.3"/>
<line x1="660.2" y1="811.8" x2="665.7" y2="811.8" stroke="#111" stroke-width="1.9"/>
<line x1="660.2" y1="825.7" x2="949.8" y2="825.7" stroke="#111" stroke-width="2.2"/>
<text transform="translate(659.07 819.5) scale(0.92 1)" font-size="19.3" text-anchor="end">0.1</text>
<text transform="translate(660.18 834.3) scale(0.92 1)" font-size="19.3" text-anchor="end">0.0</text>
<line x1="682.5" y1="640.4" x2="682.5" y2="623.1" stroke="#111" stroke-width="1.7"/>
<line x1="676.3" y1="623.4" x2="688.7" y2="623.4" stroke="#111" stroke-width="1.8"/>
<rect x="671.6" y="640.5" width="21.8" height="156.7" fill="#fff"/>
<path d="M671.6 797.2V640.5H693.4V797.2" fill="none" stroke="#111" stroke-width="2.2"/>
<rect x="671.6" y="811.8" width="21.8" height="13.9" fill="#fff"/>
<path d="M671.6 811.8V825.7M693.4 811.8V825.7" fill="none" stroke="#111" stroke-width="2.2"/>
<line x1="682.5" y1="825.7" x2="682.5" y2="831.2" stroke="#111" stroke-width="1.6"/>
<line x1="732.33" y1="668" x2="732.33" y2="631.5" stroke="#111" stroke-width="1.7"/>
<line x1="726.13" y1="631.8" x2="738.53" y2="631.8" stroke="#111" stroke-width="1.8"/>
<rect x="721.43" y="668.1" width="21.8" height="129.1" fill="url(#hatch)"/>
<path d="M721.43 797.2V668.1H743.23V797.2" fill="none" stroke="#111" stroke-width="2.2"/>
<rect x="721.43" y="811.8" width="21.8" height="13.9" fill="url(#hatch)"/>
<path d="M721.43 811.8V825.7M743.23 811.8V825.7" fill="none" stroke="#111" stroke-width="2.2"/>
<line x1="732.33" y1="825.7" x2="732.33" y2="831.2" stroke="#111" stroke-width="1.6"/>
<line x1="765.55" y1="674.3" x2="765.55" y2="656.2" stroke="#111" stroke-width="1.7"/>
<line x1="759.35" y1="656.5" x2="771.75" y2="656.5" stroke="#111" stroke-width="1.8"/>
<rect x="753.55" y="673.3" width="24" height="123.9" fill="#1e1e1e"/>
<rect x="753.55" y="811.8" width="24" height="13.9" fill="#1e1e1e"/>
<line x1="765.55" y1="825.7" x2="765.55" y2="831.2" stroke="#111" stroke-width="1.6"/>
<line x1="815.38" y1="659" x2="815.38" y2="646.9" stroke="#111" stroke-width="1.7"/>
<line x1="809.18" y1="647.2" x2="821.58" y2="647.2" stroke="#111" stroke-width="1.8"/>
<rect x="804.48" y="659.1" width="21.8" height="138.1" fill="url(#hatch)"/>
<path d="M804.48 797.2V659.1H826.28V797.2" fill="none" stroke="#111" stroke-width="2.2"/>
<rect x="804.48" y="811.8" width="21.8" height="13.9" fill="url(#hatch)"/>
<path d="M804.48 811.8V825.7M826.28 811.8V825.7" fill="none" stroke="#111" stroke-width="2.2"/>
<line x1="815.38" y1="825.7" x2="815.38" y2="831.2" stroke="#111" stroke-width="1.6"/>
<line x1="848.6" y1="673" x2="848.6" y2="663.4" stroke="#111" stroke-width="1.7"/>
<line x1="842.4" y1="663.7" x2="854.8" y2="663.7" stroke="#111" stroke-width="1.8"/>
<rect x="836.6" y="672" width="24" height="125.2" fill="#1e1e1e"/>
<rect x="836.6" y="811.8" width="24" height="13.9" fill="#1e1e1e"/>
<line x1="848.6" y1="825.7" x2="848.6" y2="831.2" stroke="#111" stroke-width="1.6"/>
<line x1="898.43" y1="661.1" x2="898.43" y2="650.1" stroke="#111" stroke-width="1.7"/>
<line x1="892.23" y1="650.4" x2="904.63" y2="650.4" stroke="#111" stroke-width="1.8"/>
<rect x="887.53" y="661.2" width="21.8" height="136" fill="url(#hatch)"/>
<path d="M887.53 797.2V661.2H909.33V797.2" fill="none" stroke="#111" stroke-width="2.2"/>
<rect x="887.53" y="811.8" width="21.8" height="13.9" fill="url(#hatch)"/>
<path d="M887.53 811.8V825.7M909.33 811.8V825.7" fill="none" stroke="#111" stroke-width="2.2"/>
<line x1="898.43" y1="825.7" x2="898.43" y2="831.2" stroke="#111" stroke-width="1.6"/>
<line x1="931.65" y1="672.3" x2="931.65" y2="665" stroke="#111" stroke-width="1.7"/>
<line x1="925.45" y1="665.3" x2="937.85" y2="665.3" stroke="#111" stroke-width="1.8"/>
<rect x="919.65" y="671.3" width="24" height="125.9" fill="#1e1e1e"/>
<rect x="919.65" y="811.8" width="24" height="13.9" fill="#1e1e1e"/>
<line x1="931.65" y1="825.7" x2="931.65" y2="831.2" stroke="#111" stroke-width="1.6"/>
<text transform="translate(748.94 853.8) scale(0.95 1)" font-size="30.5" text-anchor="middle">D1</text>
<text transform="translate(831.99 853.8) scale(0.95 1)" font-size="30.5" text-anchor="middle">D3</text>
<text transform="translate(915.04 853.8) scale(0.95 1)" font-size="30.5" text-anchor="middle">D7</text>
<rect x="1124" y="487.8" width="296" height="352.2" fill="#fdfdfd"/>
<text x="1100.8" y="477.1" font-size="44">F</text>
<text x="1152.28" y="528.9" font-size="36.4">Inferior colliculi</text>
<line x1="1130" y1="497.8" x2="1130" y2="799.8" stroke="#111" stroke-width="2.3"/>
<line x1="1124.5" y1="498.8" x2="1130" y2="498.8" stroke="#111" stroke-width="1.9"/>
<text transform="translate(1123.89 504.9) scale(0.92 1)" font-size="19.3" text-anchor="end">1.25</text>
<line x1="1124.5" y1="523.8" x2="1130" y2="523.8" stroke="#111" stroke-width="1.9"/>
<text transform="translate(1123.88 529.65) scale(0.92 1)" font-size="19.3" text-anchor="end">1.20</text>
<line x1="1124.5" y1="548.8" x2="1130" y2="548.8" stroke="#111" stroke-width="1.9"/>
<text transform="translate(1123.91 554.4) scale(0.92 1)" font-size="19.3" text-anchor="end">1.15</text>
<line x1="1124.5" y1="573.8" x2="1130" y2="573.8" stroke="#111" stroke-width="1.9"/>
<text transform="translate(1123.9 579.15) scale(0.92 1)" font-size="19.3" text-anchor="end">1.10</text>
<line x1="1124.5" y1="598.8" x2="1130" y2="598.8" stroke="#111" stroke-width="1.9"/>
<text transform="translate(1123.93 603.9) scale(0.92 1)" font-size="19.3" text-anchor="end">1.05</text>
<line x1="1124.5" y1="623.8" x2="1130" y2="623.8" stroke="#111" stroke-width="1.9"/>
<text transform="translate(1123.92 628.65) scale(0.92 1)" font-size="19.3" text-anchor="end">1.00</text>
<line x1="1124.5" y1="648.8" x2="1130" y2="648.8" stroke="#111" stroke-width="1.9"/>
<text transform="translate(1123.94 653.4) scale(0.92 1)" font-size="19.3" text-anchor="end">0.95</text>
<line x1="1124.5" y1="673.8" x2="1130" y2="673.8" stroke="#111" stroke-width="1.9"/>
<text transform="translate(1123.93 678.15) scale(0.92 1)" font-size="19.3" text-anchor="end">0.90</text>
<line x1="1124.5" y1="698.8" x2="1130" y2="698.8" stroke="#111" stroke-width="1.9"/>
<text transform="translate(1123.96 702.9) scale(0.92 1)" font-size="19.3" text-anchor="end">0.85</text>
<line x1="1124.5" y1="723.8" x2="1130" y2="723.8" stroke="#111" stroke-width="1.9"/>
<text transform="translate(1123.95 727.65) scale(0.92 1)" font-size="19.3" text-anchor="end">0.80</text>
<line x1="1124.5" y1="748.8" x2="1130" y2="748.8" stroke="#111" stroke-width="1.9"/>
<text transform="translate(1123.98 752.4) scale(0.92 1)" font-size="19.3" text-anchor="end">0.75</text>
<line x1="1124.5" y1="773.8" x2="1130" y2="773.8" stroke="#111" stroke-width="1.9"/>
<text transform="translate(1123.97 777.15) scale(0.92 1)" font-size="19.3" text-anchor="end">0.70</text>
<line x1="1124.5" y1="798.8" x2="1130" y2="798.8" stroke="#111" stroke-width="1.9"/>
<text transform="translate(1123.99 801.9) scale(0.92 1)" font-size="19.3" text-anchor="end">0.65</text>
<line x1="1130" y1="813" x2="1130" y2="827.4" stroke="#111" stroke-width="2.3"/>
<line x1="1124.5" y1="813" x2="1130" y2="813" stroke="#111" stroke-width="1.9"/>
<line x1="1124.5" y1="827.4" x2="1418.8" y2="827.4" stroke="#111" stroke-width="2.2"/>
<text transform="translate(1122.87 818.6) scale(0.92 1)" font-size="19.3" text-anchor="end">0.1</text>
<text transform="translate(1124.28 833.4) scale(0.92 1)" font-size="19.3" text-anchor="end">0.0</text>
<line x1="1147.1" y1="602.5" x2="1147.1" y2="584.3" stroke="#111" stroke-width="1.7"/>
<line x1="1140.9" y1="584.6" x2="1153.3" y2="584.6" stroke="#111" stroke-width="1.8"/>
<rect x="1136.2" y="602.6" width="21.8" height="196.2" fill="#fff"/>
<path d="M1136.2 798.8V602.6H1158V798.8" fill="none" stroke="#111" stroke-width="2.2"/>
<rect x="1136.2" y="813" width="21.8" height="14.4" fill="#fff"/>
<path d="M1136.2 813V827.4M1158 813V827.4" fill="none" stroke="#111" stroke-width="2.2"/>
<line x1="1147.1" y1="827.4" x2="1147.1" y2="832.9" stroke="#111" stroke-width="1.6"/>
<line x1="1197.53" y1="577.4" x2="1197.53" y2="543.8" stroke="#111" stroke-width="1.7"/>
<line x1="1191.33" y1="544.1" x2="1203.73" y2="544.1" stroke="#111" stroke-width="1.8"/>
<rect x="1186.63" y="577.5" width="21.8" height="221.3" fill="url(#hatch)"/>
<path d="M1186.63 798.8V577.5H1208.43V798.8" fill="none" stroke="#111" stroke-width="2.2"/>
<rect x="1186.63" y="813" width="21.8" height="14.4" fill="url(#hatch)"/>
<path d="M1186.63 813V827.4M1208.43 813V827.4" fill="none" stroke="#111" stroke-width="2.2"/>
<line x1="1197.53" y1="827.4" x2="1197.53" y2="832.9" stroke="#111" stroke-width="1.6"/>
<line x1="1231.15" y1="587.9" x2="1231.15" y2="563.4" stroke="#111" stroke-width="1.7"/>
<line x1="1224.95" y1="563.7" x2="1237.35" y2="563.7" stroke="#111" stroke-width="1.8"/>
<rect x="1219.15" y="586.9" width="24" height="211.9" fill="#1e1e1e"/>
<rect x="1219.15" y="813" width="24" height="14.4" fill="#1e1e1e"/>
<line x1="1231.15" y1="827.4" x2="1231.15" y2="832.9" stroke="#111" stroke-width="1.6"/>
<line x1="1281.58" y1="580.9" x2="1281.58" y2="570.8" stroke="#111" stroke-width="1.7"/>
<line x1="1275.38" y1="571.1" x2="1287.78" y2="571.1" stroke="#111" stroke-width="1.8"/>
<rect x="1270.68" y="581" width="21.8" height="217.8" fill="url(#hatch)"/>
<path d="M1270.68 798.8V581H1292.48V798.8" fill="none" stroke="#111" stroke-width="2.2"/>
<rect x="1270.68" y="813" width="21.8" height="14.4" fill="url(#hatch)"/>
<path d="M1270.68 813V827.4M1292.48 813V827.4" fill="none" stroke="#111" stroke-width="2.2"/>
<line x1="1281.58" y1="827.4" x2="1281.58" y2="832.9" stroke="#111" stroke-width="1.6"/>
<line x1="1315.2" y1="601.4" x2="1315.2" y2="587.6" stroke="#111" stroke-width="1.7"/>
<line x1="1309" y1="587.9" x2="1321.4" y2="587.9" stroke="#111" stroke-width="1.8"/>
<rect x="1303.2" y="600.4" width="24" height="198.4" fill="#1e1e1e"/>
<rect x="1303.2" y="813" width="24" height="14.4" fill="#1e1e1e"/>
<line x1="1315.2" y1="827.4" x2="1315.2" y2="832.9" stroke="#111" stroke-width="1.6"/>
<line x1="1365.63" y1="592.7" x2="1365.63" y2="581.5" stroke="#111" stroke-width="1.7"/>
<line x1="1359.43" y1="581.8" x2="1371.83" y2="581.8" stroke="#111" stroke-width="1.8"/>
<rect x="1354.73" y="592.8" width="21.8" height="206" fill="url(#hatch)"/>
<path d="M1354.73 798.8V592.8H1376.53V798.8" fill="none" stroke="#111" stroke-width="2.2"/>
<rect x="1354.73" y="813" width="21.8" height="14.4" fill="url(#hatch)"/>
<path d="M1354.73 813V827.4M1376.53 813V827.4" fill="none" stroke="#111" stroke-width="2.2"/>
<line x1="1365.63" y1="827.4" x2="1365.63" y2="832.9" stroke="#111" stroke-width="1.6"/>
<line x1="1399.25" y1="620.4" x2="1399.25" y2="608.5" stroke="#111" stroke-width="1.7"/>
<line x1="1393.05" y1="608.8" x2="1405.45" y2="608.8" stroke="#111" stroke-width="1.8"/>
<rect x="1387.25" y="619.4" width="24" height="179.4" fill="#1e1e1e"/>
<rect x="1387.25" y="813" width="24" height="14.4" fill="#1e1e1e"/>
<line x1="1399.25" y1="827.4" x2="1399.25" y2="832.9" stroke="#111" stroke-width="1.6"/>
<text transform="translate(1214.34 853.8) scale(0.95 1)" font-size="30.5" text-anchor="middle">D1</text>
<text transform="translate(1298.39 853.8) scale(0.95 1)" font-size="30.5" text-anchor="middle">D3</text>
<text transform="translate(1382.44 853.8) scale(0.95 1)" font-size="30.5" text-anchor="middle">D7</text>
<rect x="1562.6" y="484.9" width="332.4" height="355.1" fill="#fdfdfd"/>
<text x="1569" y="477.5" font-size="44">G</text>
<text x="1670.24" y="531" font-size="36.4">Total brain</text>
<line x1="1606" y1="498" x2="1606" y2="798.5" stroke="#111" stroke-width="2.3"/>
<line x1="1600.5" y1="499" x2="1606" y2="499" stroke="#111" stroke-width="1.9"/>
<text transform="translate(1598.69 503.5) scale(0.92 1)" font-size="19.3" text-anchor="end">1.25</text>
<line x1="1600.5" y1="523.88" x2="1606" y2="523.88" stroke="#111" stroke-width="1.9"/>
<text transform="translate(1598.7 528.24) scale(0.92 1)" font-size="19.3" text-anchor="end">1.20</text>
<line x1="1600.5" y1="548.75" x2="1606" y2="548.75" stroke="#111" stroke-width="1.9"/>
<text transform="translate(1598.74 552.98) scale(0.92 1)" font-size="19.3" text-anchor="end">1.15</text>
<line x1="1600.5" y1="573.62" x2="1606" y2="573.62" stroke="#111" stroke-width="1.9"/>
<text transform="translate(1598.75 577.73) scale(0.92 1)" font-size="19.3" text-anchor="end">1.10</text>
<line x1="1600.5" y1="598.5" x2="1606" y2="598.5" stroke="#111" stroke-width="1.9"/>
<text transform="translate(1598.79 602.47) scale(0.92 1)" font-size="19.3" text-anchor="end">1.05</text>
<line x1="1600.5" y1="623.38" x2="1606" y2="623.38" stroke="#111" stroke-width="1.9"/>
<text transform="translate(1598.8 627.21) scale(0.92 1)" font-size="19.3" text-anchor="end">1.00</text>
<line x1="1600.5" y1="648.25" x2="1606" y2="648.25" stroke="#111" stroke-width="1.9"/>
<text transform="translate(1598.84 651.95) scale(0.92 1)" font-size="19.3" text-anchor="end">0.95</text>
<line x1="1600.5" y1="673.12" x2="1606" y2="673.12" stroke="#111" stroke-width="1.9"/>
<text transform="translate(1598.85 676.69) scale(0.92 1)" font-size="19.3" text-anchor="end">0.90</text>
<line x1="1600.5" y1="698" x2="1606" y2="698" stroke="#111" stroke-width="1.9"/>
<text transform="translate(1598.89 701.43) scale(0.92 1)" font-size="19.3" text-anchor="end">0.85</text>
<line x1="1600.5" y1="722.88" x2="1606" y2="722.88" stroke="#111" stroke-width="1.9"/>
<text transform="translate(1598.9 726.17) scale(0.92 1)" font-size="19.3" text-anchor="end">0.80</text>
<line x1="1600.5" y1="747.75" x2="1606" y2="747.75" stroke="#111" stroke-width="1.9"/>
<text transform="translate(1598.94 750.92) scale(0.92 1)" font-size="19.3" text-anchor="end">0.75</text>
<line x1="1600.5" y1="772.62" x2="1606" y2="772.62" stroke="#111" stroke-width="1.9"/>
<text transform="translate(1598.95 775.66) scale(0.92 1)" font-size="19.3" text-anchor="end">0.70</text>
<line x1="1600.5" y1="797.5" x2="1606" y2="797.5" stroke="#111" stroke-width="1.9"/>
<text transform="translate(1598.99 800.4) scale(0.92 1)" font-size="19.3" text-anchor="end">0.65</text>
<line x1="1606" y1="812.1" x2="1606" y2="826.2" stroke="#111" stroke-width="2.3"/>
<line x1="1600.5" y1="812.1" x2="1606" y2="812.1" stroke="#111" stroke-width="1.9"/>
<line x1="1600.5" y1="826.2" x2="1894.9" y2="826.2" stroke="#111" stroke-width="2.2"/>
<text transform="translate(1597.57 817.1) scale(0.92 1)" font-size="19.3" text-anchor="end">0.1</text>
<text transform="translate(1598.98 831.8) scale(0.92 1)" font-size="19.3" text-anchor="end">0.0</text>
<line x1="1622.9" y1="639" x2="1622.9" y2="624.9" stroke="#111" stroke-width="1.7"/>
<line x1="1616.7" y1="625.2" x2="1629.1" y2="625.2" stroke="#111" stroke-width="1.8"/>
<rect x="1612" y="639.1" width="21.8" height="158.4" fill="#fff"/>
<path d="M1612 797.5V639.1H1633.8V797.5" fill="none" stroke="#111" stroke-width="2.2"/>
<rect x="1612" y="812.1" width="21.8" height="14.1" fill="#fff"/>
<path d="M1612 812.1V826.2M1633.8 812.1V826.2" fill="none" stroke="#111" stroke-width="2.2"/>
<line x1="1622.9" y1="826.2" x2="1622.9" y2="831.7" stroke="#111" stroke-width="1.6"/>
<line x1="1673.15" y1="631.1" x2="1673.15" y2="629.1" stroke="#111" stroke-width="1.7"/>
<line x1="1666.95" y1="629.4" x2="1679.35" y2="629.4" stroke="#111" stroke-width="1.8"/>
<rect x="1662.25" y="631.2" width="21.8" height="166.3" fill="url(#hatch)"/>
<path d="M1662.25 797.5V631.2H1684.05V797.5" fill="none" stroke="#111" stroke-width="2.2"/>
<rect x="1662.25" y="812.1" width="21.8" height="14.1" fill="url(#hatch)"/>
<path d="M1662.25 812.1V826.2M1684.05 812.1V826.2" fill="none" stroke="#111" stroke-width="2.2"/>
<line x1="1673.15" y1="826.2" x2="1673.15" y2="831.7" stroke="#111" stroke-width="1.6"/>
<line x1="1706.65" y1="678.3" x2="1706.65" y2="660.4" stroke="#111" stroke-width="1.7"/>
<line x1="1700.45" y1="660.7" x2="1712.85" y2="660.7" stroke="#111" stroke-width="1.8"/>
<rect x="1694.65" y="677.3" width="24" height="120.2" fill="#1e1e1e"/>
<rect x="1694.65" y="812.1" width="24" height="14.1" fill="#1e1e1e"/>
<line x1="1706.65" y1="826.2" x2="1706.65" y2="831.7" stroke="#111" stroke-width="1.6"/>
<line x1="1756.9" y1="643" x2="1756.9" y2="634.3" stroke="#111" stroke-width="1.7"/>
<line x1="1750.7" y1="634.6" x2="1763.1" y2="634.6" stroke="#111" stroke-width="1.8"/>
<rect x="1746" y="643.1" width="21.8" height="154.4" fill="url(#hatch)"/>
<path d="M1746 797.5V643.1H1767.8V797.5" fill="none" stroke="#111" stroke-width="2.2"/>
<rect x="1746" y="812.1" width="21.8" height="14.1" fill="url(#hatch)"/>
<path d="M1746 812.1V826.2M1767.8 812.1V826.2" fill="none" stroke="#111" stroke-width="2.2"/>
<line x1="1756.9" y1="826.2" x2="1756.9" y2="831.7" stroke="#111" stroke-width="1.6"/>
<line x1="1790.4" y1="670.7" x2="1790.4" y2="660.4" stroke="#111" stroke-width="1.7"/>
<line x1="1784.2" y1="660.7" x2="1796.6" y2="660.7" stroke="#111" stroke-width="1.8"/>
<rect x="1778.4" y="669.7" width="24" height="127.8" fill="#1e1e1e"/>
<rect x="1778.4" y="812.1" width="24" height="14.1" fill="#1e1e1e"/>
<line x1="1790.4" y1="826.2" x2="1790.4" y2="831.7" stroke="#111" stroke-width="1.6"/>
<line x1="1840.65" y1="654.1" x2="1840.65" y2="641" stroke="#111" stroke-width="1.7"/>
<line x1="1834.45" y1="641.3" x2="1846.85" y2="641.3" stroke="#111" stroke-width="1.8"/>
<rect x="1829.75" y="654.2" width="21.8" height="143.3" fill="url(#hatch)"/>
<path d="M1829.75 797.5V654.2H1851.55V797.5" fill="none" stroke="#111" stroke-width="2.2"/>
<rect x="1829.75" y="812.1" width="21.8" height="14.1" fill="url(#hatch)"/>
<path d="M1829.75 812.1V826.2M1851.55 812.1V826.2" fill="none" stroke="#111" stroke-width="2.2"/>
<line x1="1840.65" y1="826.2" x2="1840.65" y2="831.7" stroke="#111" stroke-width="1.6"/>
<line x1="1874.15" y1="657.2" x2="1874.15" y2="645" stroke="#111" stroke-width="1.7"/>
<line x1="1867.95" y1="645.3" x2="1880.35" y2="645.3" stroke="#111" stroke-width="1.8"/>
<rect x="1862.15" y="656.2" width="24" height="141.3" fill="#1e1e1e"/>
<rect x="1862.15" y="812.1" width="24" height="14.1" fill="#1e1e1e"/>
<line x1="1874.15" y1="826.2" x2="1874.15" y2="831.7" stroke="#111" stroke-width="1.6"/>
<text transform="translate(1689.9 851.7) scale(0.95 1)" font-size="30.5" text-anchor="middle">D1</text>
<text transform="translate(1773.65 851.7) scale(0.95 1)" font-size="30.5" text-anchor="middle">D3</text>
<text transform="translate(1857.4 851.7) scale(0.95 1)" font-size="30.5" text-anchor="middle">D7</text>
<rect x="1483" y="128.4" width="521.7" height="197.3" fill="none" stroke="#7a7a7a" stroke-width="1.2" stroke-dasharray="1.6 1.55"/>
<g><rect x="1499.8" y="161.4" width="43.2" height="25" fill="#fff" stroke="#000" stroke-width="4.8"/></g>
<text x="1553.8" y="184" font-size="30.6">NO (n=6)</text>
<g><rect x="1728" y="162" width="44.3" height="26" fill="#fff"/>
<g clip-path="url(#soclip)"><line x1="1697.1" y1="200" x2="1742.1" y2="150" stroke="#000" stroke-width="3.5"/><line x1="1712.3" y1="200" x2="1757.3" y2="150" stroke="#000" stroke-width="3.5"/><line x1="1727.5" y1="200" x2="1772.5" y2="150" stroke="#000" stroke-width="3.5"/><line x1="1742.7" y1="200" x2="1787.7" y2="150" stroke="#000" stroke-width="3.5"/><line x1="1757.9" y1="200" x2="1802.9" y2="150" stroke="#000" stroke-width="3.5"/></g>
<rect x="1728.5" y="162.5" width="43.3" height="25.2" fill="none" stroke="#000" stroke-width="4.8"/></g>
<text x="1783.4" y="184" font-size="31">SO</text>
<rect x="1879" y="162.3" width="48.3" height="27.4" rx="3.2" fill="#1e1e1e"/>
<text x="1941.2" y="184" font-size="31">TBI</text>
<text x="1511.9" y="266.7" font-size="30.3"><tspan font-weight="bold">D1</tspan> (n=2-4)</text>
<text x="1667.5" y="266.7" font-size="30.3"><tspan font-weight="bold">D3</tspan> (n=6-8)</text>
<text x="1828.2" y="266.7" font-size="30.3"><tspan font-weight="bold">D7</tspan> (n=6-8)</text>
</svg>
</body></html>
